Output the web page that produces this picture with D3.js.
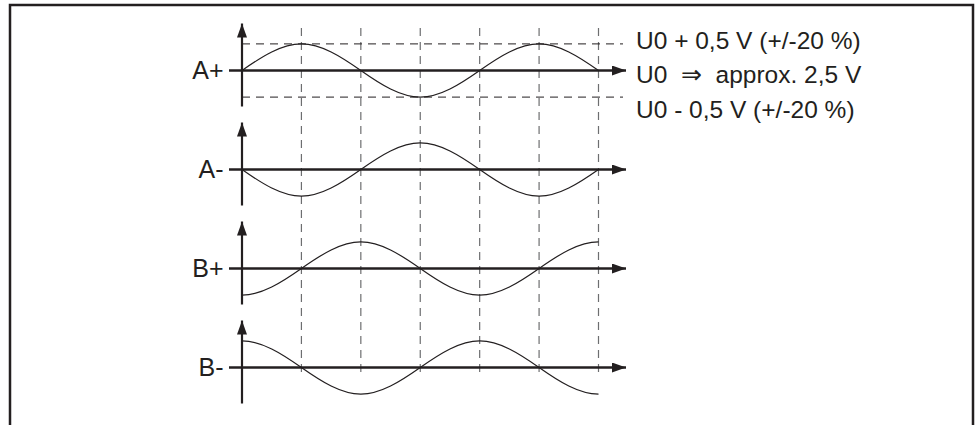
<!DOCTYPE html>
<html>
<head>
<meta charset="utf-8">
<script src="https://cdn.jsdelivr.net/npm/d3@7"></script>
<style>
  html, body { margin: 0; padding: 0; background: #fff; }
  svg { display: block; }
  text { font-family: "Liberation Sans", Arial, sans-serif; fill: #231f20; }
</style>
</head>
<body>
<svg id="chart" width="978" height="425"></svg>
<script>
// signal channels, top to bottom
var channels = ["A+", "A-", "B+", "B-"];
// normalised level at each quarter period (0..6)
var quarters = [0, 1, 2, 3, 4, 5, 6];
var levelsAplus = [0, 1, 0, -1, 0, 1, 0];
var levelsAminus = [0, -1, 0, 1, 0, -1, 0];
var levelsBplus = [-1, 0, 1, 0, -1, 0, 1];
var levelsBminus = [1, 0, -1, 0, 1, 0, -1];
var levels = [levelsAplus, levelsAminus, levelsBplus, levelsBminus];
// reference levels drawn on the first channel
var refLevels = [1, -1];
var notes = ["U0 + 0,5 V (+/-20 %)", "U0  \u21D2  approx. 2,5 V", "U0 - 0,5 V (+/-20 %)"];

var svg = d3.select("#chart");
var ink = "#231f20";

// curve through quarter-period points with sine-like tangents
// (flat at peaks, slope pi/2 times the secant at crossings)
function quarterWave(context) {
    var pts;
    return {
        areaStart: function() {}, areaEnd: function() {},
        lineStart: function() { pts = []; },
        point: function(x, y) { pts.push([+x, +y]); },
        lineEnd: function() {
            var n = pts.length;
            if (!n) return;
            var ys = pts.map(function(p) { return p[1]; });
            var mid = (d3.min(ys) + d3.max(ys)) / 2;
            var k = Math.PI / 2;
            var m = pts.map(function(p, i) {
                if (i > 0 && i < n - 1)
                    return k * (pts[i + 1][1] - pts[i - 1][1]) / (pts[i + 1][0] - pts[i - 1][0]);
                var q = i === 0 ? pts[1] : pts[n - 2];
                if (Math.abs(p[1] - mid) > 0.5) return 0;
                return k * (q[1] - p[1]) / (q[0] - p[0]);
            });
            context.moveTo(pts[0][0], pts[0][1]);
            for (var i = 0; i < n - 1; i++) {
                var h = (pts[i + 1][0] - pts[i][0]) / 3;
                context.bezierCurveTo(
                    pts[i][0] + h, pts[i][1] + m[i] * h,
                    pts[i + 1][0] - h, pts[i + 1][1] - m[i + 1] * h,
                    pts[i + 1][0], pts[i + 1][1]);
            }
        }
    };
}

// frame, open at the bottom
svg.append("path")
    .attr("d", "M10,425 V5 H973 V425")
    .attr("fill", "none")
    .attr("stroke", ink)
    .attr("stroke-width", 2.5);

var x = d3.scaleLinear().domain([0, 6]).range([242, 598.5]);
var row = d3.scalePoint().domain(channels).range([70.5, 367.5]);
var amp = 26.6;

var defs = svg.append("defs");
defs.append("marker")
    .attr("id", "arr")
    .attr("viewBox", "0 0 14 10")
    .attr("refX", 14).attr("refY", 5)
    .attr("markerWidth", 14).attr("markerHeight", 10)
    .attr("markerUnits", "userSpaceOnUse")
    .attr("orient", "auto")
    .append("path")
    .attr("d", "M0,0 L14,5 L0,10 Z")
    .attr("fill", ink);

// vertical quarter-period guides
svg.append("g").selectAll("line")
    .data(quarters.slice(1))
    .join("line")
    .attr("x1", function(d) { return x(d); })
    .attr("x2", function(d) { return x(d); })
    .attr("y1", 28)
    .attr("y2", 373)
    .attr("stroke", "#6d6e70")
    .attr("stroke-width", 1.2)
    .attr("stroke-dasharray", "8,6");

// reference dashed levels on A+
svg.append("g").selectAll("line")
    .data(refLevels)
    .join("line")
    .attr("x1", x(0))
    .attr("x2", 623)
    .attr("y1", function(d) { return row("A+") - d * amp; })
    .attr("y2", function(d) { return row("A+") - d * amp; })
    .attr("stroke", ink)
    .attr("stroke-width", 1)
    .attr("stroke-dasharray", "8,6");

var panels = svg.append("g").selectAll("g")
    .data(channels)
    .join("g");

panels.each(function(ch, i) {
    var g = d3.select(this);
    var y0 = row(ch);
    var y = d3.scaleLinear().domain([-1, 1]).range([y0 + amp, y0 - amp]);

    // vertical axis
    g.append("line")
        .attr("x1", x(0)).attr("x2", x(0))
        .attr("y1", y0 + 36).attr("y2", y0 - 47)
        .attr("stroke", ink)
        .attr("stroke-width", 2.2)
        .attr("marker-end", "url(#arr)");

    // time axis
    g.append("line")
        .attr("x1", 229).attr("x2", 626)
        .attr("y1", y0).attr("y2", y0)
        .attr("stroke", ink)
        .attr("stroke-width", 2.6)
        .attr("marker-end", "url(#arr)");

    var line = d3.line()
        .x(function(d) { return x(d[0]); })
        .y(function(d) { return y(d[1]); })
        .curve(quarterWave);

    g.append("path")
        .datum(d3.zip(quarters, levels[i]))
        .attr("d", line)
        .attr("fill", "none")
        .attr("stroke", ink)
        .attr("stroke-width", 1.2);

    g.append("text")
        .attr("x", 223.5)
        .attr("y", y0 + 8.6)
        .attr("text-anchor", "end")
        .attr("font-size", 25)
        .text(ch);
});

svg.append("g").selectAll("text")
    .data(notes)
    .join("text")
    .attr("x", 636)
    .attr("y", function(d, i) { return 48.5 + i * 34.5; })
    .attr("font-size", 24.5)
    .attr("xml:space", "preserve")
    .style("white-space", "pre")
    .text(function(d) { return d; });
</script>
</body>
</html>
